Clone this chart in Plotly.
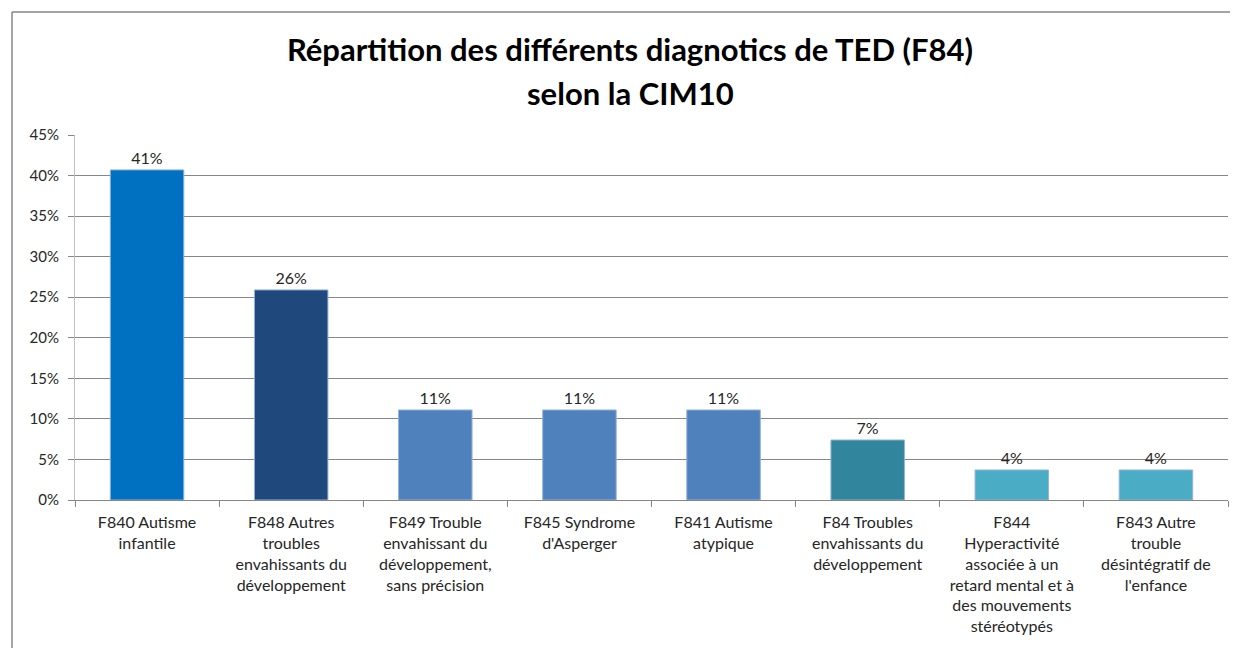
import plotly.graph_objects as go

categories = [
    "F840 Autisme<br>infantile",
    "F848 Autres<br>troubles<br>envahissants du<br>développement",
    "F849 Trouble<br>envahissant du<br>développement,<br>sans précision",
    "F845 Syndrome<br>d'Asperger",
    "F841 Autisme<br>atypique",
    "F84 Troubles<br>envahissants du<br>développement",
    "F844<br>Hyperactivité<br>associée à un<br>retard mental et à<br>des mouvements<br>stéréotypés",
    "F843 Autre<br>trouble<br>désintégratif de<br>l'enfance",
]
values = [0.407, 0.259, 0.111, 0.111, 0.111, 0.074, 0.037, 0.037]
value_labels = ["41%", "26%", "11%", "11%", "11%", "7%", "4%", "4%"]
bar_colors = ["#0070C0", "#1F497D", "#4F81BD", "#4F81BD", "#4F81BD",
              "#31859C", "#4BACC6", "#4BACC6"]

title_line1 = "Répartition des différents diagnotics de TED (F84)"
title_line2 = "selon la CIM10"

FONT = "Lato"

# page body has an 8px margin, so the figure is shrunk/offset accordingly
W, H = 1222, 640
L, R, T, B = 67, 2, 127, 148
PW, PH = W - L - R, H - T - B

fig = go.Figure(
    go.Bar(
        x=categories,
        y=values,
        text=value_labels,
        textposition="outside",
        textfont=dict(family=FONT, size=16, color="#262626"),
        cliponaxis=False,
        marker=dict(color=bar_colors, line=dict(color="#95B3D7", width=1)),
        hoverinfo="skip",
    )
)

fx = lambda px: (px - L) / PW
fy = lambda py: (H - B - py) / PH

fig.update_layout(
    width=W,
    height=H,
    margin=dict(l=L, r=R, t=T, b=B),
    paper_bgcolor="white",
    plot_bgcolor="white",
    bargap=0.49,
    showlegend=False,
    font=dict(family=FONT, size=15, color="#262626"),
    title=dict(
        text=title_line1,
        xref="container", x=622 / W, xanchor="center",
        yref="container", y=1 - 42 / H, yanchor="middle",
        font=dict(family=FONT, size=31, color="black", weight="bold"),
    ),
    annotations=[
        dict(
            text=title_line2, xref="paper", yref="paper",
            x=fx(622), y=fy(85),
            xanchor="center", yanchor="middle", showarrow=False,
            font=dict(family=FONT, size=31, color="black", weight="bold"),
        )
    ],
    shapes=[
        dict(type="line", xref="paper", yref="paper",
             x0=fx(4), x1=fx(W + 20), y0=fy(4), y1=fy(4),
             line=dict(color="#868686", width=1.5)),
        dict(type="line", xref="paper", yref="paper",
             x0=fx(4), x1=fx(4), y0=fy(4), y1=fy(H + 20),
             line=dict(color="#868686", width=1.5)),
    ],
)

fig.update_xaxes(
    showline=True, linecolor="#868686", linewidth=1,
    ticks="outside", tickson="boundaries", ticklen=6, tickcolor="#868686",
    tickfont=dict(family=FONT, size=16, color="#262626"),
    ticklabelstandoff=8,
    tickangle=0,
    showgrid=False,
)
fig.update_yaxes(
    range=[0, 0.45], dtick=0.05, tickformat=".0%",
    showline=True, linecolor="#BFBFBF", linewidth=1,
    ticks="outside", ticklen=6, tickcolor="#868686",
    ticklabelstandoff=6,
    showgrid=True, gridcolor="#868686", gridwidth=1,
    tickfont=dict(family=FONT, size=15, color="#262626"),
    zeroline=False,
)

fig.write_html("out.html")
